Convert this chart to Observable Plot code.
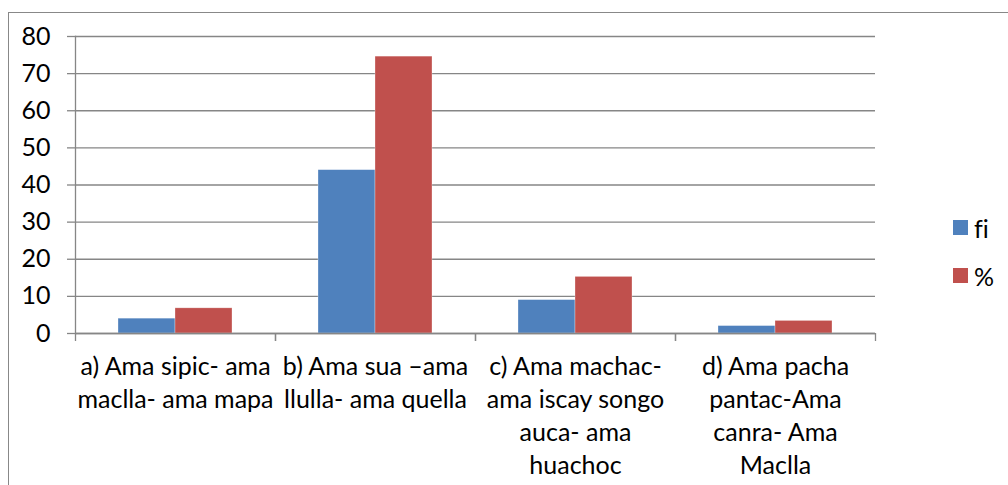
<!DOCTYPE html>
<html>
<head>
<meta charset="utf-8">
<script src="https://cdn.jsdelivr.net/npm/d3@7"></script>
<script src="https://cdn.jsdelivr.net/npm/@observablehq/plot@0.6"></script>
<style>
  html, body { margin: 0; padding: 0; background: #fff; overflow: hidden; }
  #wrap { position: relative; width: 1008px; height: 485px; overflow: hidden; font-family: Lato, "Open Sans", sans-serif; font-variant-ligatures: none; }
  #border { position: absolute; left: 8px; top: 12px; width: 1200px; height: 700px; border: 1px solid #888; box-sizing: border-box; }
  #chart { position: absolute; left: 0; top: 0; }
  #chart svg { font-variant-ligatures: none; }
  #legend { position: absolute; left: 953px; top: 213px; font-size: 25px; color: #000; font-variant-ligatures: none; }
  #legend .item { display: flex; align-items: center; height: 29px; margin-bottom: 19px; }
  #legend .sw { width: 15px; height: 15px; margin-right: 6px; }
</style>
</head>
<body>
<div id="wrap">
  <div id="border"></div>
  <div id="chart"></div>
  <div id="legend"></div>
</div>
<script>
const categories = [
  "a) Ama sipic- ama\nmaclla- ama mapa",
  "b) Ama sua –ama\nllulla- ama quella",
  "c) Ama machac-\nama iscay songo\nauca- ama\nhuachoc",
  "d) Ama pacha\npantac-Ama\ncanra- Ama\nMaclla"
];
const series = ["fi", "%"];
const fiValues = [4, 44, 9, 2];
const pctValues = [6.78, 74.58, 15.25, 3.39];
const colors = ["#4F81BD", "#C0504D"];
const yTicks = [0, 10, 20, 30, 40, 50, 60, 70, 80];

const data = categories.flatMap((c, i) => [
  {cat: c, series: "fi", value: fiValues[i]},
  {cat: c, series: "%", value: pctValues[i]}
]);

const axisColor = "#868686";

const chart = Plot.plot({
  width: 1008,
  height: 485,
  marginLeft: 75,
  marginRight: 133,
  marginTop: 36,
  marginBottom: 152,
  style: {fontFamily: "Lato, 'Open Sans', sans-serif", fontSize: "25px", background: "transparent", color: "#000"},
  fx: {domain: categories, padding: 0, label: null},
  x: {domain: series, paddingInner: 0, paddingOuter: 0.754, axis: null},
  y: {domain: [0, 80]},
  color: {domain: series, range: colors},
  marks: [
    Plot.gridY(yTicks, {stroke: axisColor, strokeOpacity: 1, strokeWidth: 1.3}),
    Plot.barY(data, {fx: "cat", x: "series", y: "value", fill: "series", stroke: "#fff", strokeOpacity: 0.5, strokeWidth: 0.6}),
    Plot.ruleY([0], {stroke: axisColor, strokeWidth: 1.3}),
    Plot.frame({anchor: "left", facet: "super", stroke: axisColor, strokeWidth: 1.3}),
    Plot.axisY(yTicks, {tickSize: 8, tickPadding: 17, stroke: axisColor, strokeOpacity: 1, strokeWidth: 1.3, label: null, fontSize: 25, fill: "#000"}),
    Plot.axisFx({anchor: "bottom", tickSize: 8, text: null, dx: -100, label: null, stroke: axisColor, strokeWidth: 1.3}),
    Plot.axisFx([categories[categories.length - 1]], {anchor: "bottom", tickSize: 8, text: null, dx: 100, label: null, stroke: axisColor, strokeWidth: 1.3}),
    Plot.axisFx({anchor: "bottom", tickSize: 0, tickPadding: 18, label: null, lineHeight: 1.32, fontSize: 25, fill: "#000", textOverflow: null})
  ]
});
document.getElementById("chart").appendChild(chart);

const legend = document.getElementById("legend");
series.forEach((s, i) => {
  const item = document.createElement("div");
  item.className = "item";
  const sw = document.createElement("div");
  sw.className = "sw";
  sw.style.background = colors[i];
  const t = document.createElement("span");
  t.textContent = s;
  item.appendChild(sw);
  item.appendChild(t);
  legend.appendChild(item);
});
</script>
</body>
</html>
